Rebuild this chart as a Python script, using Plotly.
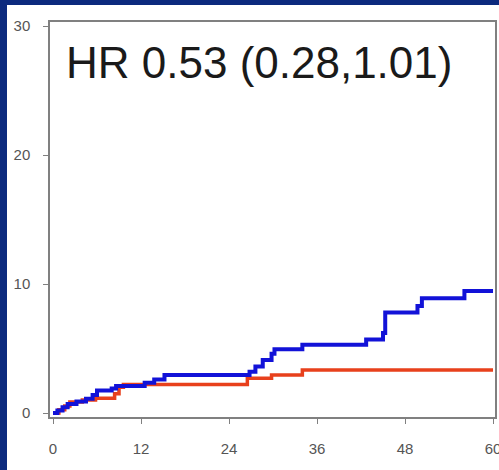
import plotly.graph_objects as go

# cumulative incidence (%) by month
blue_months = [0, 0.6, 1.3, 2.0, 3.2, 4.5, 5.4, 6.0, 8.0, 8.6, 12.5, 13.8, 15.2,
               26.8, 27.6, 28.6, 29.8, 30.2, 34.0, 42.7, 45.0, 45.3, 49.7, 50.3, 56.1, 60]
blue_pct = [0, 0.2, 0.45, 0.7, 0.9, 1.1, 1.4, 1.75, 1.9, 2.1, 2.35, 2.6, 2.95,
            3.2, 3.6, 4.1, 4.6, 4.95, 5.3, 5.7, 6.2, 7.8, 8.3, 8.9, 9.45, 9.45]

red_months = [0, 0.8, 1.6, 2.3, 4.0, 5.8, 8.4, 9.0, 9.6, 26.5, 29.8, 34.0, 60]
red_pct = [0, 0.25, 0.55, 0.85, 1.0, 1.15, 1.5, 2.0, 2.2, 2.7, 2.95, 3.33, 3.33]

x_ticks = [0, 12, 24, 36, 48, 60]
y_ticks = [0, 10, 20, 30]
hr_text = "HR 0.53 (0.28,1.01)"

W, H = 499, 470
ml, mr, mt, mb = 50, 4, 22, 53
pw, ph = W - ml - mr, H - mt - mb

fig = go.Figure()
fig.add_trace(go.Scatter(x=red_months, y=red_pct, mode="lines", line_shape="hv",
                         line=dict(color="#e8401c", width=3.5), showlegend=False))
fig.add_trace(go.Scatter(x=blue_months, y=blue_pct, mode="lines", line_shape="hv",
                         line=dict(color="#1212d8", width=4), showlegend=False))

fig.add_annotation(x=1.5, y=27.2, xref="x", yref="y", text=hr_text, showarrow=False,
                   xanchor="left", yanchor="middle",
                   font=dict(family="Liberation Sans, Arial", size=44, color="#1a1a1a"))

# slide frame (dark blue strips on the left and top)
frame = "#0c2a7e"
fig.add_shape(type="rect", xref="paper", yref="paper", layer="above",
              x0=-ml / pw, x1=(7 - ml) / pw, y0=-mb / ph, y1=1 + mt / ph,
              fillcolor=frame, line_width=0)
fig.add_shape(type="rect", xref="paper", yref="paper", layer="above",
              x0=-ml / pw, x1=1 + mr / pw, y0=1 + (mt - 5) / ph, y1=1 + mt / ph,
              fillcolor=frame, line_width=0)

axis_font = dict(family="Liberation Sans, Arial", size=15, color="#555555")
fig.update_layout(
    width=W, height=H,
    margin=dict(l=ml, r=mr, t=mt, b=mb),
    paper_bgcolor="white", plot_bgcolor="white",
    xaxis=dict(range=[-0.41, 60.27], tickvals=x_ticks, showgrid=False, zeroline=False,
               showline=True, mirror=True, linecolor="#808080", linewidth=1.5,
               ticks="outside", ticklen=5, tickcolor="#808080", tickfont=axis_font,
               ticklabelstandoff=12, automargin=False, ticklabeloverflow="allow"),
    yaxis=dict(range=[-0.31, 30.31], tickvals=y_ticks, showgrid=False, zeroline=False,
               showline=True, mirror=True, linecolor="#808080", linewidth=1.5,
               ticks="outside", ticklen=5, tickcolor="#808080", tickfont=axis_font,
               ticklabelstandoff=10, automargin=False),
)

# the page's default body margin would push the figure 8px in
fig.write_html("out.html", config={"displayModeBar": False},
               post_script="document.body.style.margin='0';")
